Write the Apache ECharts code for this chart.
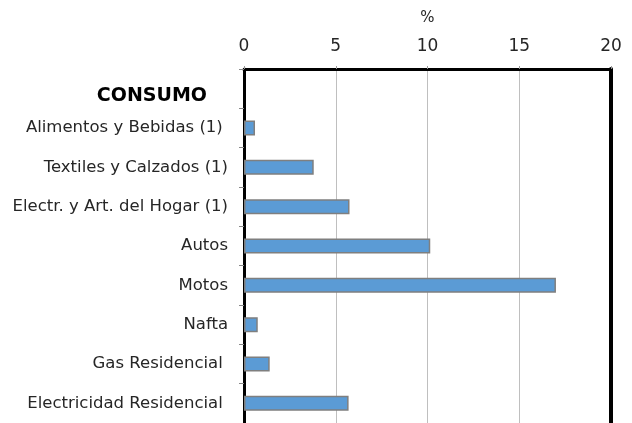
<!DOCTYPE html>
<html><head><meta charset="utf-8">
<script src="https://cdn.jsdelivr.net/npm/echarts@6/dist/echarts.min.js"></script>
<style>html,body{margin:0;padding:0;background:#fff}#c{width:632px;height:423px}</style>
</head><body><div id="c"></div>
<script>
const categories = ["CONSUMO", "Alimentos y Bebidas (1) ", "Textiles y Calzados (1)", "Electr. y Art. del Hogar (1)", "Autos", "Motos", "Nafta", "Gas Residencial ", "Electricidad Residencial "];
const values = [null, 0.6, 3.8, 5.75, 10.15, 17.0, 0.75, 1.4, 5.7];
const xTicks = [0, 5, 10, 15, 20];
const axisName = "%";

const FONT = "DejaVu Sans";
const chart = echarts.init(document.getElementById('c'));
chart.setOption({
  animation: false,
  backgroundColor: '#fff',
  grid: { left: 244, right: 21, top: 69, bottom: -3, containLabel: false },
  xAxis: {
    type: 'value', position: 'top', min: xTicks[0], max: xTicks[xTicks.length - 1], interval: 5,
    name: axisName, nameLocation: 'middle', nameGap: 43,
    nameTextStyle: { fontFamily: FONT, fontSize: 15, color: '#262626' },
    axisLine: { show: true, lineStyle: { color: '#000', width: 3 } },
    axisTick: { show: true, length: 3, lineStyle: { color: '#999' } },
    axisLabel: { fontFamily: FONT, fontSize: 17, color: '#262626', margin: 14 },
    splitLine: { show: true, lineStyle: { color: '#bfbfbf', width: 1 } }
  },
  yAxis: [{
    type: 'category', data: categories, inverse: true,
    axisLine: { show: true, lineStyle: { color: '#000', width: 3 } },
    axisTick: { show: true, length: 5, lineStyle: { color: '#888' } },
    axisLabel: {
      fontFamily: FONT, fontSize: 16.5, color: '#262626', margin: 16,
      formatter: (v, i) => i === 0 ? '{h|' + v + '}' : v,
      rich: { h: { fontFamily: FONT, fontSize: 19, fontWeight: 'bold', color: '#000', padding: [14, 21, 0, 0] } }
    },
    splitLine: { show: false }
  }, {
    type: 'category', data: categories, inverse: true, position: 'right',
    axisLine: { show: true, lineStyle: { color: '#000', width: 4 } },
    axisTick: { show: false }, axisLabel: { show: false }, splitLine: { show: false }
  }],
  series: [{
    type: 'bar', data: values, yAxisIndex: 0, barWidth: 15,
    itemStyle: { color: '#5b9bd5', borderColor: '#7f7f7f', borderWidth: 1.5 }
  }]
});
</script></body></html>
